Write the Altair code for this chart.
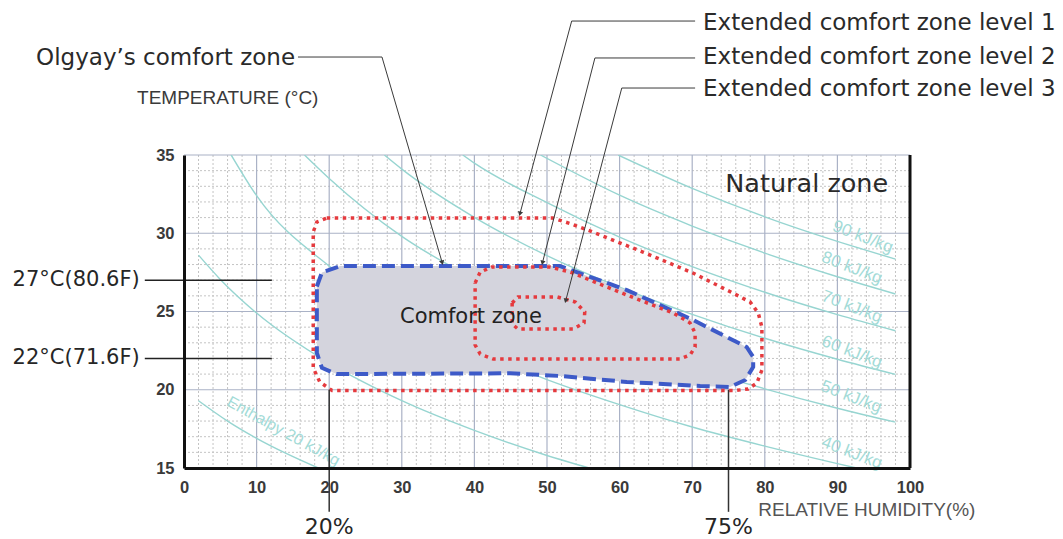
import math
import altair as alt
import pandas as pd

# Plot-area size (pixels) and axis ranges
W, H = 726, 313
RH_DOMAIN = [0, 100]
T_DOMAIN = [15, 35]

# Axis ticks and grid positions
RH_TICKS = list(range(0, 101, 10))
T_TICKS = [15, 20, 25, 30, 35]
RH_MAJOR = list(range(10, 100, 10))
T_MAJOR = [20, 25, 30, 35]
RH_MINOR = [v for v in range(2, 100, 2) if v % 10]
T_MINOR = [v for v in range(16, 35) if v % 5]

# Constant-enthalpy lines (relative humidity %, temperature °C)
H20 = [(2, 19.3), (6, 18.0), (10, 16.9), (14, 15.95), (18.5, 15.0)]
H30 = [(2, 28.6), (5, 27.05), (10, 24.9), (20, 21.7), (30, 19.3), (40, 17.4), (50, 15.8), (55.8, 15.0)]
H40 = [(6.5, 35.0), (10, 32.4), (20, 27.9), (30, 24.9), (40, 22.55), (50, 20.65), (60, 19.05),
       (70, 17.62), (80, 16.4), (90, 15.28), (92.6, 15.0)]
H50 = [(16.6, 35.0), (20, 33.5), (30, 29.8), (40, 27.08), (50, 24.87), (60, 23.03), (70, 21.45),
       (80, 20.06), (90, 18.82), (98, 17.93)]
H60 = [(27.6, 35.0), (30, 34.1), (40, 31.02), (50, 28.57), (60, 26.55), (70, 24.82), (80, 23.29),
       (90, 21.95), (98, 20.98)]
H70 = [(38.4, 35.0), (40, 34.48), (50, 31.95), (60, 29.75), (70, 27.87), (80, 26.23), (90, 24.8), (98, 23.77)]
H80 = [(49.1, 35.0), (60, 32.43), (70, 30.46), (80, 28.73), (90, 27.22), (98, 26.12)]
H90 = [(59.8, 35.0), (70, 32.87), (80, 31.05), (90, 29.48), (98, 28.35)]

ENTHALPY_LABELS = ["90 kJ/kg", "80 kJ/kg", "70 kJ/kg", "60 kJ/kg", "50 kJ/kg", "40 kJ/kg"]
ENTHALPY_LABEL_RH = [93.5, 92.0, 92.0, 92.0, 91.9, 92.0]
ENTHALPY_LABEL_T = [29.76, 27.78, 25.29, 22.41, 19.54, 15.96]

# Comfort zones (relative humidity %, temperature °C), traced clockwise
OLGYAY_ZONE = [(18.3, 26.6), (19.0, 27.5), (21.5, 27.9), (51.8, 27.9), (54.5, 27.45), (61.0, 26.37),
               (70.1, 24.46), (77.5, 22.73), (78.4, 22.09), (78.4, 21.45), (77.3, 20.62), (75.2, 20.18),
               (71.1, 20.24), (61.0, 20.5), (51.8, 20.88), (44.9, 21.05), (21.0, 21.0), (19.0, 21.4),
               (18.3, 22.35)]
LEVEL1_ZONE = [(19.66, 30.97), (50.8, 30.97), (53.4, 30.59), (56.3, 30.08), (63.2, 28.8), (70.1, 27.46),
               (75.6, 26.18), (78.0, 25.6), (79.1, 24.9), (79.6, 24.0), (79.6, 21.26), (78.9, 20.43),
               (77.7, 20.05), (75.9, 19.95), (20.4, 19.95), (18.7, 20.5), (17.8, 21.39), (17.8, 30.08),
               (18.3, 30.72)]
LEVEL2_ZONE = [(40.1, 26.82), (40.8, 27.52), (42.4, 27.84), (50.4, 27.84), (53.2, 27.52), (61.0, 26.05),
               (67.4, 24.9), (69.7, 24.27), (70.4, 23.63), (70.4, 22.73), (69.7, 22.22), (68.3, 21.96),
               (42.6, 21.96), (40.8, 22.28), (40.1, 22.86)]
LEVEL3_ZONE = [(45.2, 25.54), (46.0, 25.93), (51.4, 25.93), (53.9, 25.61), (55.2, 24.97), (55.1, 24.27),
               (53.6, 23.88), (46.0, 23.88), (45.2, 24.2)]

# Comfort bounds marked on the axes
TEMP_MARKS = [27, 22]
TEMP_MARK_LABELS = ["27°C(80.6F)", "22°C(71.6F)"]
RH_MARKS = [20, 75]
RH_MARK_LABELS = ["20%", "75%"]

# Callouts: label, text anchor, elbow and arrow tip (relative humidity %, temperature °C)
CALLOUT_NAMES = ["Olgyay’s comfort zone", "Extended comfort zone level 1",
                 "Extended comfort zone level 2", "Extended comfort zone level 3"]
CALLOUT_START = [(15.7, 41.26), (70.4, 43.56), (70.4, 41.2), (70.4, 39.28)]
CALLOUT_ELBOW = [(27.27, 41.26), (53.4, 43.56), (56.6, 41.2), (60.3, 39.28)]
CALLOUT_TIP = [(35.54, 28.16), (46.3, 31.29), (49.4, 28.16), (52.6, 25.73)]

# Colours
MINOR_GRID = "#c4c4c4"
MAJOR_GRID = "#aab2c6"
ENTHALPY_COLOR = "#97d5d1"
ENTHALPY_TEXT = "#a3dbd7"
ZONE_FILL = "#d4d4dd"
BLUE = "#3d5ac8"
RED = "#e53a3e"
INK = "#262626"

# ---------------------------------------------------------------- encodings
x_scale = alt.Scale(domain=RH_DOMAIN, nice=False, zero=False)
y_scale = alt.Scale(domain=T_DOMAIN, nice=False, zero=False)
x_axis = alt.Axis(values=RH_TICKS, title="", grid=False, ticks=False, domainColor="#111111",
                  domainWidth=3, labelFont="Liberation Sans", labelFontWeight="bold", labelFontSize=16.5,
                  labelColor="#3a3a3a", labelPadding=11, labelFlush=False, zindex=2)
y_axis = alt.Axis(values=T_TICKS, title="", grid=False, ticks=False, domainColor="#111111",
                  domainWidth=3, labelFont="Liberation Sans", labelFontWeight="bold", labelFontSize=16.5,
                  labelColor="#3a3a3a", labelPadding=10, labelFlush=False, zindex=2)


def X(field="rh"):
    return alt.X(f"{field}:Q", scale=x_scale, axis=x_axis)


def Y(field="t"):
    return alt.Y(f"{field}:Q", scale=y_scale, axis=y_axis)


def path_frame(points, name, close=False):
    pts = list(points) + ([points[0]] if close else [])
    return pd.DataFrame({"rh": [p[0] for p in pts], "t": [p[1] for p in pts],
                         "i": list(range(len(pts))), "name": name})


# ---------------------------------------------------------------- grid
minor_v = alt.Chart(pd.DataFrame({"rh": RH_MINOR})).mark_rule(
    color=MINOR_GRID, strokeDash=[2, 2], strokeWidth=1).encode(x=X())
minor_h = alt.Chart(pd.DataFrame({"t": T_MINOR})).mark_rule(
    color=MINOR_GRID, strokeDash=[2, 2], strokeWidth=1).encode(y=Y())
major_v = alt.Chart(pd.DataFrame({"rh": RH_MAJOR})).mark_rule(
    color=MAJOR_GRID, strokeWidth=1.2).encode(x=X())
major_h = alt.Chart(pd.DataFrame({"t": T_MAJOR})).mark_rule(
    color=MAJOR_GRID, strokeWidth=1.2).encode(y=Y())
right_border = alt.Chart(pd.DataFrame({"rh": [RH_DOMAIN[1]]})).mark_rule(
    color="#111111", strokeWidth=3).encode(x=X())

# ---------------------------------------------------------------- enthalpy lines
enthalpy = {20: H20, 30: H30, 40: H40, 50: H50, 60: H60, 70: H70, 80: H80, 90: H90}
enthalpy_df = pd.concat([path_frame(v, f"h{k}") for k, v in enthalpy.items()], ignore_index=True)
enthalpy_lines = alt.Chart(enthalpy_df).mark_line(
    color=ENTHALPY_COLOR, strokeWidth=1.4, interpolate="monotone", clip=True
).encode(x=X(), y=Y(), detail="name:N", order="i:Q")

enthalpy_labels = alt.Chart(pd.DataFrame({
    "rh": ENTHALPY_LABEL_RH, "t": ENTHALPY_LABEL_T, "label": ENTHALPY_LABELS
})).mark_text(font="Liberation Sans", fontSize=17, color=ENTHALPY_TEXT, angle=21,
              align="center", baseline="middle").encode(x=X(), y=Y(), text="label:N")

enthalpy20_label = alt.Chart(pd.DataFrame({
    "rh": [6.1], "t": [19.3], "label": ["Enthalpy 20 kJ/kg"]
})).mark_text(font="Liberation Sans", fontSize=16, color=ENTHALPY_TEXT, angle=29,
              align="left", baseline="middle", clip=True).encode(x=X(), y=Y(), text="label:N")

# ---------------------------------------------------------------- zones
olgyay = alt.Chart(path_frame(OLGYAY_ZONE, "olgyay", close=True)).mark_line(
    fill=ZONE_FILL, stroke=BLUE, strokeWidth=4, strokeDash=[13, 6], strokeCap="butt"
).encode(x=X(), y=Y(), order="i:Q")

levels_df = pd.concat([
    path_frame(LEVEL1_ZONE, "level1", close=True),
    path_frame(LEVEL2_ZONE, "level2", close=True),
    path_frame(LEVEL3_ZONE, "level3", close=True),
], ignore_index=True)
levels = alt.Chart(levels_df).mark_line(
    stroke=RED, strokeWidth=3.5, strokeDash=[3.5, 4.5], strokeCap="butt"
).encode(x=X(), y=Y(), detail="name:N", order="i:Q")

comfort_text = alt.Chart(pd.DataFrame({"rh": [29.75], "t": [24.68], "label": ["Comfort zone"]})).mark_text(
    font="DejaVu Sans", fontSize=21, color="#222222", align="left", baseline="middle"
).encode(x=X(), y=Y(), text="label:N")

natural_text = alt.Chart(pd.DataFrame({"rh": [97.0], "t": [33.15], "label": ["Natural zone"]})).mark_text(
    font="DejaVu Sans", fontSize=25.5, color="#2a2a2a", align="right", baseline="middle"
).encode(x=X(), y=Y(), text="label:N")

# ---------------------------------------------------------------- bound markers
temp_rules = alt.Chart(pd.DataFrame({"t": TEMP_MARKS, "rh": [-5.4] * 2, "rh2": [12.1] * 2})).mark_rule(
    color="#222222", strokeWidth=1.5).encode(x=X(), x2="rh2:Q", y=Y())
temp_text = alt.Chart(pd.DataFrame({"t": TEMP_MARKS, "rh": [-6.1] * 2, "label": TEMP_MARK_LABELS})).mark_text(
    font="DejaVu Sans", fontSize=21, fontWeight=500, color=INK, align="right", baseline="middle"
).encode(x=X(), y=Y(), text="label:N")

rh_rules = alt.Chart(pd.DataFrame({"rh": RH_MARKS, "t": [20.0] * 2, "t2": [12.2] * 2})).mark_rule(
    color="#333333", strokeWidth=1.5).encode(x=X(), y=Y(), y2="t2:Q")
rh_text = alt.Chart(pd.DataFrame({"rh": RH_MARKS, "t": [11.2] * 2, "label": RH_MARK_LABELS})).mark_text(
    font="DejaVu Sans", fontSize=22, color=INK, align="center", baseline="middle"
).encode(x=X(), y=Y(), text="label:N")

# ---------------------------------------------------------------- callouts
leader_df = pd.concat([
    path_frame([s, e, t], n) for n, s, e, t in zip(CALLOUT_NAMES, CALLOUT_START, CALLOUT_ELBOW, CALLOUT_TIP)
], ignore_index=True)
leaders = alt.Chart(leader_df).mark_line(color="#3a3a3a", strokeWidth=1).encode(
    x=X(), y=Y(), detail="name:N", order="i:Q")

px_rh, px_t = W / (RH_DOMAIN[1] - RH_DOMAIN[0]), H / (T_DOMAIN[1] - T_DOMAIN[0])
arrow_angles = []
for (erh, et), (trh, tt) in zip(CALLOUT_ELBOW, CALLOUT_TIP):
    dx, dy = (trh - erh) * px_rh, -(tt - et) * px_t
    arrow_angles.append(math.degrees(math.atan2(dx, -dy)) % 360)
arrows = alt.Chart(pd.DataFrame({
    "rh": [p[0] for p in CALLOUT_TIP], "t": [p[1] for p in CALLOUT_TIP], "ang": arrow_angles
})).mark_point(shape="triangle", filled=True, size=28, color="#3a3a3a", opacity=1).encode(
    x=X(), y=Y(), angle=alt.Angle("ang:Q", scale=None))

callout_left = alt.Chart(pd.DataFrame({
    "rh": [15.3], "t": [41.2], "label": [CALLOUT_NAMES[0]]
})).mark_text(font="DejaVu Sans", fontSize=23, color="#2a2a2a", align="right", baseline="middle").encode(
    x=X(), y=Y(), text="label:N")
callout_right = alt.Chart(pd.DataFrame({
    "rh": [71.5] * 3, "t": [43.43, 41.26, 39.22], "label": CALLOUT_NAMES[1:]
})).mark_text(font="DejaVu Sans", fontSize=23, color="#2a2a2a", align="left", baseline="middle").encode(
    x=X(), y=Y(), text="label:N")

# ---------------------------------------------------------------- axis titles
y_title = alt.Chart(pd.DataFrame({"rh": [-6.47], "t": [38.64], "label": ["TEMPERATURE (°C)"]})).mark_text(
    font="Liberation Sans", fontSize=19, color="#3a3a3a", align="left", baseline="middle"
).encode(x=X(), y=Y(), text="label:N")
x_title = alt.Chart(pd.DataFrame({"rh": [79.1], "t": [12.3], "label": ["RELATIVE HUMIDITY(%)"]})).mark_text(
    font="Liberation Sans", fontSize=19, color="#555555", align="left", baseline="middle"
).encode(x=X(), y=Y(), text="label:N")

chart = alt.layer(
    minor_v, minor_h, major_v, major_h,
    enthalpy_lines, enthalpy_labels, enthalpy20_label,
    olgyay, levels, comfort_text, natural_text,
    temp_rules, temp_text, rh_rules, rh_text,
    leaders, arrows, callout_left, callout_right,
    y_title, x_title, right_border,
).properties(
    width=W, height=H,
    autosize=alt.AutoSizeParams(type="none"),
    padding={"left": 184, "top": 155, "right": 1063 - 184 - W, "bottom": 539 - 155 - H},
    background="white",
).configure_view(strokeWidth=0)

chart.save("out.html", embed_options={"renderer": "svg", "actions": False})
